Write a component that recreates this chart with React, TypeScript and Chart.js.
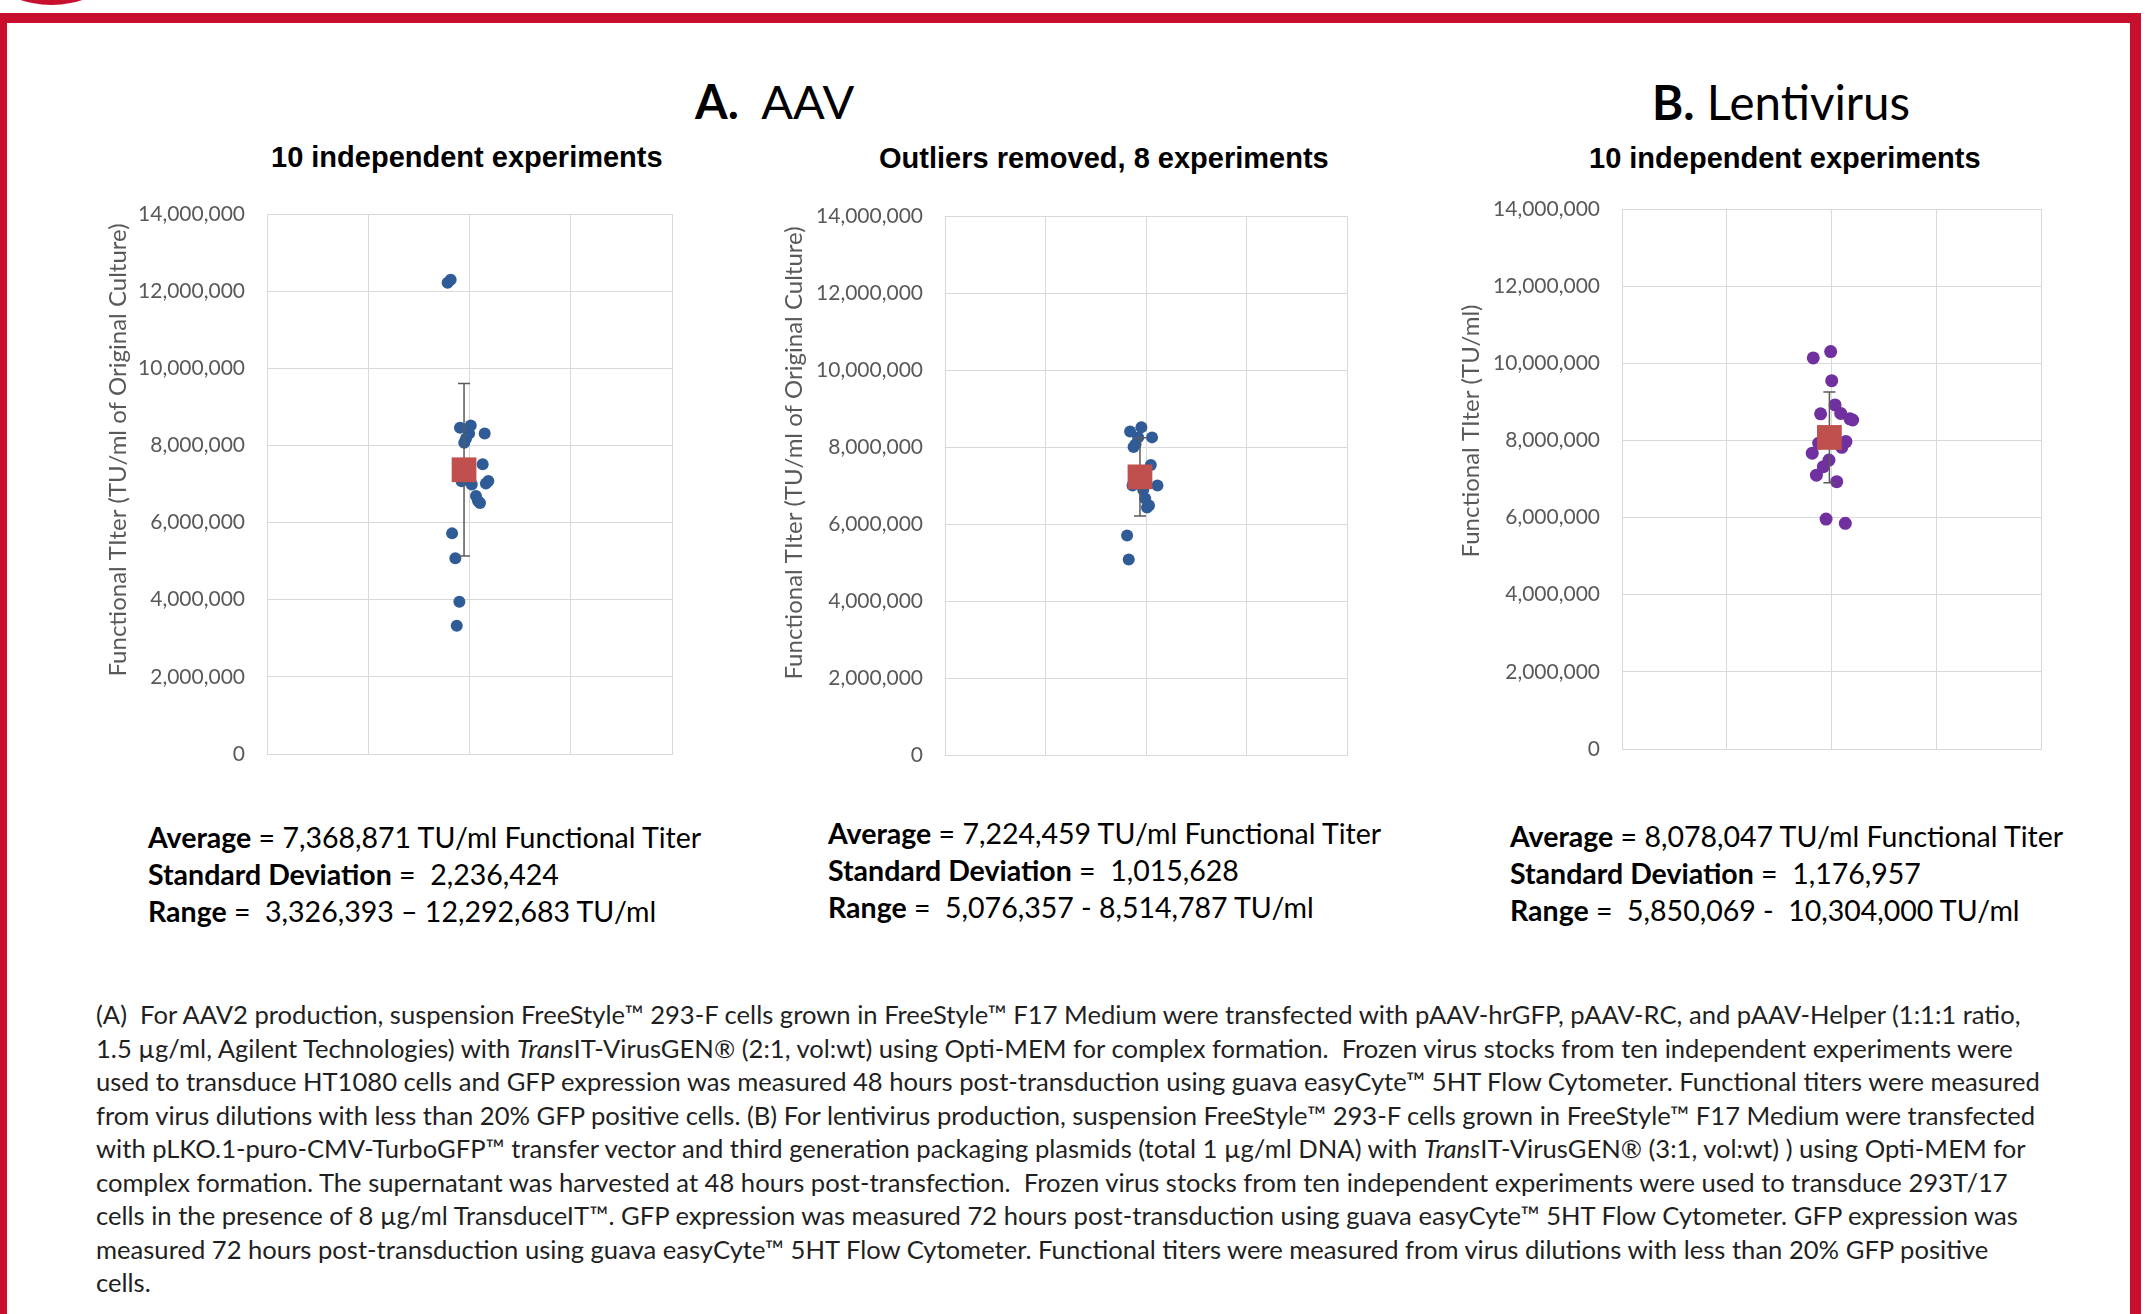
import React, { useEffect, useRef } from "react";
import { Chart, registerables } from "chart.js";

Chart.register(...registerables);
Chart.defaults.font.family = "Lato, 'Open Sans', sans-serif";

// Shared axes: titer ticks and x grid divisions
const yTickValues = [0, 2000000, 4000000, 6000000, 8000000, 10000000, 12000000, 14000000];
const xGridValues = [0, 0.5, 1, 1.5, 2];

// A. AAV – all 10 experiments (duplicate reads)
const aavAllX = [0.892, 0.907, 0.953, 1.006, 0.998, 1.075, 0.983, 0.974, 1.065, 0.961, 1.011, 1.081, 1.093, 1.032, 1.052, 1.042, 0.914, 0.93, 0.95, 0.937];
const aavAllY = [12220000, 12292683, 8460000, 8514787, 8310000, 8310000, 8180000, 8070000, 7510000, 7070000, 6990000, 7010000, 7080000, 6690000, 6510000, 6560000, 5720000, 5076357, 3950000, 3326393];
const aavAllMean = 7368871;
const aavAllSd = 2236424;
const aavAllMeanX = 0.973;

// A. AAV – outliers removed, 8 experiments
const aavTrimX = [0.921, 0.977, 0.961, 1.03, 0.948, 0.938, 1.024, 0.933, 1.057, 0.986, 0.996, 1.005, 1.015, 0.906, 0.914, 0.97];
const aavTrimY = [8400000, 8514787, 8250000, 8250000, 8070000, 8000000, 7530000, 7000000, 7000000, 6880000, 6660000, 6430000, 6480000, 5700000, 5076357, 7250000];
const aavTrimMean = 7224459;
const aavTrimSd = 1015628;
const aavTrimMeanX = 0.97;

// B. Lentivirus – 10 experiments
const lentiX = [0.913, 0.996, 1.001, 1.017, 0.948, 1.044, 1.088, 1.101, 1.069, 1.049, 0.939, 0.908, 0.988, 0.961, 0.928, 1.025, 0.974, 1.066];
const lentiY = [10140000, 10304000, 9550000, 8920000, 8690000, 8700000, 8560000, 8530000, 7970000, 7820000, 7930000, 7670000, 7490000, 7320000, 7100000, 6930000, 5960000, 5850069];
const lentiMean = 8078047;
const lentiSd = 1176957;
const lentiMeanX = 0.99;

const RED = "#c8102e";
const GRID = "#d9d9d9";
const AXIS_TEXT = "#595959";
const CALIBRI_LIKE = "Lato, 'Open Sans', sans-serif";

const fmt = (v: number) => Math.round(v).toLocaleString("en-US");

// Mean ± SD whisker, painted right after the individual points
const errorBarPlugin = {
  id: "errorBar",
  afterDatasetDraw(chart: any, args: any, opts: any) {
    if (args.index !== 0 || !opts || opts.sd == null) return;
    const xs = chart.scales.x;
    const ys = chart.scales.y;
    const px = xs.getPixelForValue(opts.x);
    const top = ys.getPixelForValue(opts.mean + opts.sd);
    const bot = ys.getPixelForValue(opts.mean - opts.sd);
    const ctx = chart.ctx;
    ctx.save();
    ctx.strokeStyle = opts.color;
    ctx.lineWidth = opts.width;
    ctx.beginPath();
    ctx.moveTo(px, top);
    ctx.lineTo(px, bot);
    ctx.moveTo(px - opts.cap, top);
    ctx.lineTo(px + opts.cap, top);
    ctx.moveTo(px - opts.cap, bot);
    ctx.lineTo(px + opts.cap, bot);
    ctx.stroke();
    ctx.restore();
  },
};

// Rotated value-axis caption
const sideTitlePlugin = {
  id: "sideTitle",
  afterDraw(chart: any, _args: any, opts: any) {
    if (!opts || !opts.text) return;
    const ctx = chart.ctx;
    ctx.save();
    ctx.translate(opts.x, opts.y);
    ctx.rotate(-Math.PI / 2);
    ctx.font = `${opts.size}px ${CALIBRI_LIKE}`;
    ctx.fillStyle = AXIS_TEXT;
    ctx.textAlign = "center";
    ctx.textBaseline = "middle";
    ctx.fillText(opts.text, 0, 0);
    ctx.restore();
  },
};

type PanelProps = {
  xs: number[];
  ys: number[];
  mean: number;
  sd: number;
  meanX: number;
  color: string;
  radius: number;
  axisTitle: string;
  titleX: number;
  titleY: number;
  left: number;
  top: number;
  width: number;
  height: number;
  pad: { left: number; top: number; right: number; bottom: number };
  axisWidth: number;
  tickPad: number;
};

function TiterPanel(p: PanelProps) {
  const ref = useRef<HTMLCanvasElement | null>(null);
  useEffect(() => {
    if (!ref.current) return;
    const chart = new Chart(ref.current, {
      type: "scatter",
      data: {
        datasets: [
          {
            data: p.xs.map((x, i) => ({ x, y: p.ys[i] })),
            backgroundColor: p.color,
            borderColor: p.color,
            borderWidth: 0,
            pointRadius: p.radius,
            pointHoverRadius: p.radius,
            order: 2,
          },
          {
            data: [{ x: p.meanX, y: p.mean }],
            pointStyle: "rect",
            pointRadius: 17.5,
            pointHoverRadius: 17.5,
            backgroundColor: "#c0504d",
            borderColor: "#c0504d",
            borderWidth: 0,
            order: 1,
          },
        ],
      },
      options: {
        responsive: false,
        animation: false,
        events: [],
        layout: { padding: p.pad },
        plugins: {
          legend: { display: false },
          tooltip: { enabled: false },
          errorBar: { x: p.meanX, mean: p.mean, sd: p.sd, color: "#5a5a5a", width: 1.5, cap: 6 },
          sideTitle: { text: p.axisTitle, x: p.titleX, y: p.titleY, size: 24 },
        } as any,
        scales: {
          x: {
            type: "linear",
            min: 0,
            max: 2,
            afterBuildTicks: (s: any) => {
              s.ticks = xGridValues.map((v) => ({ value: v }));
            },
            afterFit: (s: any) => {
              s.height = 0;
            },
            ticks: { display: false },
            grid: { color: GRID, lineWidth: 1, drawTicks: false },
            border: { color: GRID, width: 1 },
          },
          y: {
            type: "linear",
            min: 0,
            max: 14000000,
            afterBuildTicks: (s: any) => {
              s.ticks = yTickValues.map((v) => ({ value: v }));
            },
            afterFit: (s: any) => {
              s.width = p.axisWidth;
            },
            ticks: {
              padding: p.tickPad,
              color: AXIS_TEXT,
              font: { size: 21, family: CALIBRI_LIKE },
              callback: (v: any) => fmt(Number(v)),
            },
            grid: { color: GRID, lineWidth: 1, drawTicks: false },
            border: { color: GRID, width: 1 },
          },
        },
      },
      plugins: [errorBarPlugin, sideTitlePlugin],
    });
    return () => chart.destroy();
  }, []);
  return (
    <canvas
      ref={ref}
      width={p.width}
      height={p.height}
      style={{ position: "absolute", left: p.left, top: p.top, width: p.width, height: p.height }}
    />
  );
}

const txt = (extra: React.CSSProperties): React.CSSProperties => ({
  position: "absolute",
  whiteSpace: "pre",
  fontFamily: CALIBRI_LIKE,
  color: "#000",
  ...extra,
});

function Stats(props: { left: number; top: number; mean: number; sd: number; ys: number[]; dash: string }) {
  const lo = Math.min(...props.ys);
  const hi = Math.max(...props.ys);
  const s: React.CSSProperties = { fontSize: 28.5, lineHeight: "37px" };
  return (
    <div style={txt({ left: props.left, top: props.top, ...s })}>
      <div>
        <b>Average</b> = {fmt(props.mean)} TU/ml Functional Titer
      </div>
      <div>
        <b>Standard Deviation</b> =  {fmt(props.sd)}
      </div>
      <div>
        <b>Range</b> =  {fmt(lo)}{props.dash}{fmt(hi)} TU/ml
      </div>
    </div>
  );
}

const captionLines: React.ReactNode[] = [
  "(A)  For AAV2 production, suspension FreeStyle™ 293-F cells grown in FreeStyle™ F17 Medium were transfected with pAAV-hrGFP, pAAV-RC, and pAAV-Helper (1:1:1 ratio,",
  <>1.5 µg/ml, Agilent Technologies) with <i>Trans</i>IT-VirusGEN® (2:1, vol:wt) using Opti-MEM for complex formation.  Frozen virus stocks from ten independent experiments were</>,
  "used to transduce HT1080 cells and GFP expression was measured 48 hours post-transduction using guava easyCyte™ 5HT Flow Cytometer. Functional titers were measured",
  "from virus dilutions with less than 20% GFP positive cells. (B) For lentivirus production, suspension FreeStyle™ 293-F cells grown in FreeStyle™ F17 Medium were transfected",
  <>with pLKO.1-puro-CMV-TurboGFP™ transfer vector and third generation packaging plasmids (total 1 µg/ml DNA) with <i>Trans</i>IT-VirusGEN® (3:1, vol:wt) ) using Opti-MEM for</>,
  "complex formation. The supernatant was harvested at 48 hours post-transfection.  Frozen virus stocks from ten independent experiments were used to transduce 293T/17",
  "cells in the presence of 8 µg/ml TransduceIT™. GFP expression was measured 72 hours post-transduction using guava easyCyte™ 5HT Flow Cytometer. GFP expression was",
  "measured 72 hours post-transduction using guava easyCyte™ 5HT Flow Cytometer. Functional titers were measured from virus dilutions with less than 20% GFP positive",
  "cells.",
];

export default function App() {
  const sub: React.CSSProperties = {
    fontFamily: "'Liberation Sans', Arial, sans-serif",
    fontWeight: 700,
    fontSize: 29,
    lineHeight: "35px",
  };
  return (
    <div
      style={{
        position: "absolute",
        left: 0,
        top: 0,
        width: 2146,
        height: 1314,
        overflow: "hidden",
        background: "#fff",
      }}
    >
      {/* frame */}
      <div style={{ position: "absolute", left: -47, top: -192, width: 197, height: 197, borderRadius: "50%", background: RED }} />
      <div style={{ position: "absolute", left: 0, top: 13, width: 2141, height: 10, background: RED }} />
      <div style={{ position: "absolute", left: 0, top: 13, width: 7, height: 1301, background: RED }} />
      <div style={{ position: "absolute", left: 2130, top: 13, width: 11, height: 1301, background: RED }} />

      {/* headings */}
      <div style={txt({ left: 695, top: 73, fontSize: 47, lineHeight: 1.2 })}>
        <b>A.</b>  AAV
      </div>
      <div style={txt({ left: 1652, top: 73, fontSize: 47.5, lineHeight: 1.2 })}>
        <b>B.</b> Lentivirus
      </div>
      <div style={txt({ left: 271, top: 140, ...sub })}>10 independent experiments</div>
      <div style={txt({ left: 879, top: 141, ...sub })}>Outliers removed, 8 experiments</div>
      <div style={txt({ left: 1589, top: 141, ...sub })}>10 independent experiments</div>

      <TiterPanel
        xs={aavAllX}
        ys={aavAllY}
        mean={aavAllMean}
        sd={aavAllSd}
        meanX={aavAllMeanX}
        color="#2f5b97"
        radius={6}
        axisTitle="Functional TIter (TU/ml of Original Culture)"
        titleX={58}
        titleY={272}
        left={60}
        top={178}
        width={640}
        height={620}
        pad={{ left: 0, top: 36, right: 28, bottom: 44 }}
        axisWidth={207}
        tickPad={22}
      />
      <TiterPanel
        xs={aavTrimX}
        ys={aavTrimY}
        mean={aavTrimMean}
        sd={aavTrimSd}
        meanX={aavTrimMeanX}
        color="#2f5b97"
        radius={6}
        axisTitle="Functional TIter (TU/ml of Original Culture)"
        titleX={54}
        titleY={273}
        left={740}
        top={180}
        width={640}
        height={620}
        pad={{ left: 0, top: 36, right: 33, bottom: 45 }}
        axisWidth={205}
        tickPad={22}
      />
      <TiterPanel
        xs={lentiX}
        ys={lentiY}
        mean={lentiMean}
        sd={lentiSd}
        meanX={lentiMeanX}
        color="#7030a0"
        radius={6.5}
        axisTitle="Functional TIter (TU/ml)"
        titleX={51}
        titleY={258}
        left={1420}
        top={173}
        width={680}
        height={620}
        pad={{ left: 0, top: 36, right: 59, bottom: 44 }}
        axisWidth={202}
        tickPad={22}
      />

      <Stats left={148} top={818.5} mean={aavAllMean} sd={aavAllSd} ys={aavAllY} dash=" – " />
      <Stats left={828} top={814.5} mean={aavTrimMean} sd={aavTrimSd} ys={aavTrimY} dash=" - " />
      <Stats left={1510} top={818} mean={lentiMean} sd={lentiSd} ys={lentiY} dash=" -  " />

      <div style={txt({ left: 96, top: 998, fontSize: 25.6, lineHeight: "33.5px", color: "#1f1f1f" })}>
        {captionLines.map((l, i) => (
          <div key={i}>{l}</div>
        ))}
      </div>
    </div>
  );
}
